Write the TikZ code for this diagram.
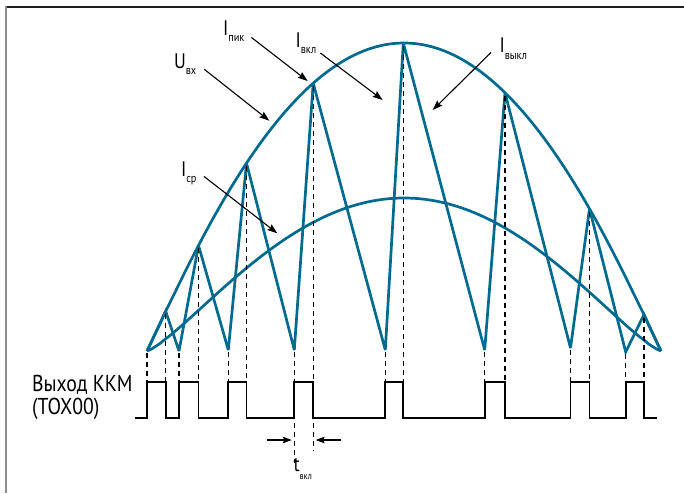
\documentclass[tikz,border=0pt]{standalone}
\usepackage{fontspec}
\newfontfamily\lblfont[FakeStretch=0.86]{PT Sans}
\usepackage{tikz}
\usetikzlibrary{arrows.meta}
\definecolor{wave}{RGB}{0,106,143}

\begin{document}
\begin{tikzpicture}[x=1pt,y=-1pt,
  sawline/.style={draw=wave,line width=2.7pt,miter limit=4},
  envline/.style={draw=wave,line width=2.7pt},
  pulse/.style={draw=black,line width=1.9pt},
  guide/.style={draw=black,line width=1.1pt,dash pattern=on 5pt off 4pt},
  lblarrow/.style={draw=black,line width=1.1pt,-{Stealth[length=10pt,width=7pt,inset=1.5pt]}},
  gaparrow/.style={draw=black,line width=1.1pt,-{Stealth[length=9pt,width=6.5pt,inset=1.5pt]}},
  lbl/.style={inner sep=0pt,outer sep=0pt,anchor=base west,font=\lblfont\fontsize{21}{21}\selectfont},
  txt/.style={inner sep=0pt,outer sep=0pt,anchor=base west,font=\lblfont\fontsize{23}{23}\selectfont},
  declare function={uin(\x)=351-308*max(1-((\x-404)/257)^2,0.0001)^1.05;
                    iav(\x)=351-153*max(1-((\x-404)/257)^2,0.0001)^1.3;}]
\path[use as bounding box] (0,0) rectangle (684,493);
\path[fill=white,draw=none] (0,0) rectangle (684,493);
\draw[draw={rgb,255:red,30;green,30;blue,30},line width=2pt] (5,7) -- (684,7);
\draw[draw={rgb,255:red,140;green,140;blue,140},line width=2pt] (6,6) -- (6,493);

\coordinate (hi) at (0,382);
\coordinate (lo) at (0,418);
\foreach \n/\x/\y in {0/147/351,1/179/351,2/228.3/350,3/294.3/350,4/385.3/350,5/484.7/350,6/570.5/348,7/625.7/352,8/661/351}
  \coordinate (v\n) at (\x,\y);
\foreach \n/\x in {1/165.7,2/198.5,3/246.5,4/313.2,5/403.3,6/505,7/589.5,8/644}
  \coordinate (p\n) at (\x,{uin(\x)});

\draw[envline] plot[domain=147:661,samples=120] (\x,{uin(\x)});
\draw[envline] plot[domain=147:661,samples=120] (\x,{iav(\x)});
\draw[sawline] (v0) -- (p1) -- (v1) -- (p2) -- (v2) -- (p3) -- (v3) -- (p4) -- (v4)
  -- (p5) -- (v5) -- (p6) -- (v6) -- (p7) -- (v7) -- (p8) -- (v8);

\foreach \n in {0,...,7} \draw[guide] ([yshift=-2pt]v\n) -- (v\n |- hi);
\foreach \n in {1,...,8} \draw[guide] ([yshift=-3pt]p\n) -- (p\n |- hi);

\draw[pulse] (135,418) \foreach \i/\j in {0/1,1/2,2/3,3/4,4/5,5/6,6/7,7/8} {
  -- (v\i |- lo) -- (v\i |- hi) -- (p\j |- hi) -- (p\j |- lo) } -- (657,418);

\node[txt] (kkm) at (32,391.7) {Выход ККМ};
\node[txt] (tox) at (32,414.3) {(TOX00)};

\coordinate (tona) at (294.3,463);
\coordinate (tonb) at (313.2,451);
\coordinate (gapl) at (266.5,440);
\coordinate (gapr) at (341,440);
\draw[guide] ([yshift=-5pt]v3 |- lo) -- (tona);
\draw[guide] ([yshift=-5pt]p4 |- lo) -- (tonb);
\draw[gaparrow] (gapl) -- (291.8,440);
\draw[gaparrow] (gapr) -- (315.6,440);

\node[lbl] (uvx) at (174,68.3) {U\raisebox{-6.5pt}{\fontsize{12}{12}\selectfont вх}};
\node[lbl] (ipik) at (223,35) {I\raisebox{-6.5pt}{\fontsize{12}{12}\selectfont пик}};
\node[lbl] (ivkl) at (295.5,47.3) {I\raisebox{-6pt}{\fontsize{12}{12}\selectfont вкл}};
\node[lbl] (ivykl) at (499.5,52.3) {I\raisebox{-7pt}{\fontsize{12}{12}\selectfont выкл}};
\node[lbl] (isr) at (181,176.7) {I\raisebox{-5.8pt}{\fontsize{12}{12}\selectfont ср}};
\node[lbl] (tvkl) at (293.5,471) {t\raisebox{-8pt}{\fontsize{9.5}{9.5}\selectfont вкл}};

\coordinate (uvx tip) at (269.3,120.7);
\coordinate (ipik tip) at (307.7,81);
\coordinate (ivkl tip) at (382.7,100);
\coordinate (ivykl tip) at (432.7,110);
\coordinate (isr tip) at (277.3,233.3);
\draw[lblarrow] ([shift={(8,5)}]uvx.east) -- (uvx tip);
\draw[lblarrow] ([shift={(7,6.5)}]ipik.east) -- (ipik tip);
\draw[lblarrow] ([shift={(4,10)}]ivkl.east) -- (ivkl tip);
\draw[lblarrow] ([shift={(-8.5,4)}]ivykl.west) -- (ivykl tip);
\draw[lblarrow] ([shift={(7.5,3)}]isr.east) -- (isr tip);
\end{tikzpicture}
\end{document}
